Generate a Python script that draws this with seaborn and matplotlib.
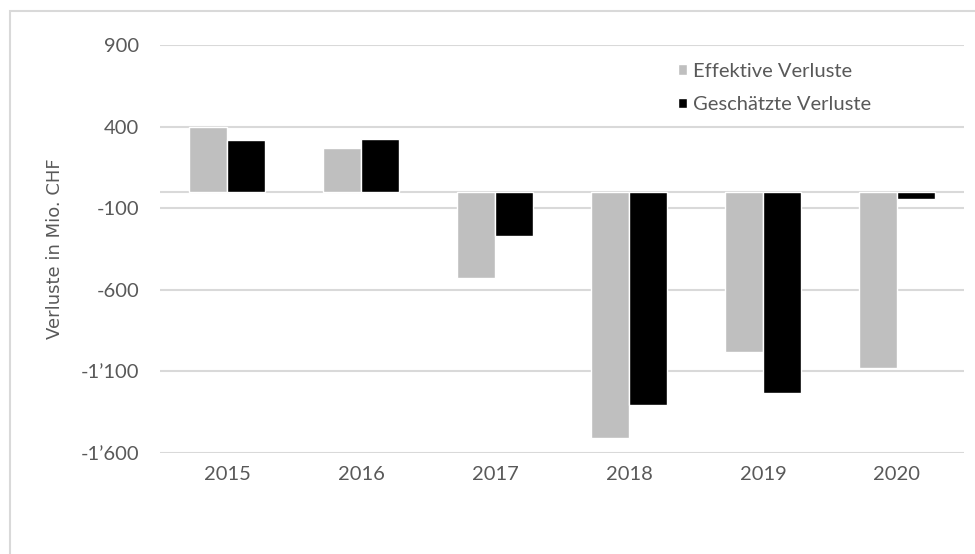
import matplotlib
matplotlib.use("Agg")
import matplotlib.pyplot as plt
from matplotlib.ticker import FuncFormatter, FixedLocator
from matplotlib.patches import Rectangle
import seaborn as sns
import pandas as pd

# Jahre und Verluste (Mio. CHF)
years = ["2015", "2016", "2017", "2018", "2019", "2020"]
effective_losses = [395, 271, -527, -1506, -980, -1078]
estimated_losses = [316, 322, -273, -1307, -1230, -46]
series_names = ["Effektive Verluste", "Geschätzte Verluste"]
y_ticks = [900, 400, -100, -600, -1100, -1600]

df = pd.DataFrame({
    "Jahr": years * 2,
    "Wert": effective_losses + estimated_losses,
    "Serie": [series_names[0]] * len(years) + [series_names[1]] * len(years),
})

sns.set_theme(style="white")
plt.rcParams["font.family"] = ["Lato", "DejaVu Sans"]

fig = plt.figure(figsize=(9.75, 5.54), dpi=100)
ax = fig.add_axes([160 / 975, 1 - 453 / 554, 804 / 975, 408 / 554])

# Rahmen um die Grafik
fig.patches.append(Rectangle((9.5 / 975, -0.1), 1.2, 1 - 10.5 / 554 + 0.1,
                             transform=fig.transFigure, fill=False,
                             edgecolor="#D9D9D9", linewidth=1.5, zorder=0))

sns.barplot(data=df, x="Jahr", y="Wert", hue="Serie", hue_order=series_names,
            palette=["#BFBFBF", "#000000"], width=0.567, saturation=1,
            ax=ax, zorder=3)

ax.set_ylim(-1600, 900)
ax.set_xlim(-0.5, 5.5)
ax.yaxis.set_major_locator(FixedLocator(y_ticks))
ax.yaxis.set_major_formatter(FuncFormatter(
    lambda v, _: f"{int(v):,}".replace(",", "\u2019")))
ax.grid(axis="y", color="#D9D9D9", linewidth=1.5, zorder=0)
ax.axhline(0, color="#D9D9D9", linewidth=1.5, zorder=1)
for s in ax.spines.values():
    s.set_visible(False)

ax.tick_params(axis="both", length=0, labelsize=14.5, labelcolor="#595959")
ax.tick_params(axis="x", pad=9)
ax.tick_params(axis="y", pad=15)
ax.set_xlabel("")
ax.set_ylabel("Verluste in Mio. CHF", fontsize=13, color="#595959",
              family="DejaVu Sans", labelpad=12)

leg = ax.legend(loc="upper left", bbox_to_anchor=(668 / 975, 1 - 53 / 554),
                bbox_transform=fig.transFigure, frameon=False, fontsize=14.5,
                handlelength=0.45, handleheight=0.45, handletextpad=0.3,
                labelspacing=0.8, borderpad=0, title=None)
for t in leg.get_texts():
    t.set_color("#595959")

fig.savefig("out.png", dpi=100)
